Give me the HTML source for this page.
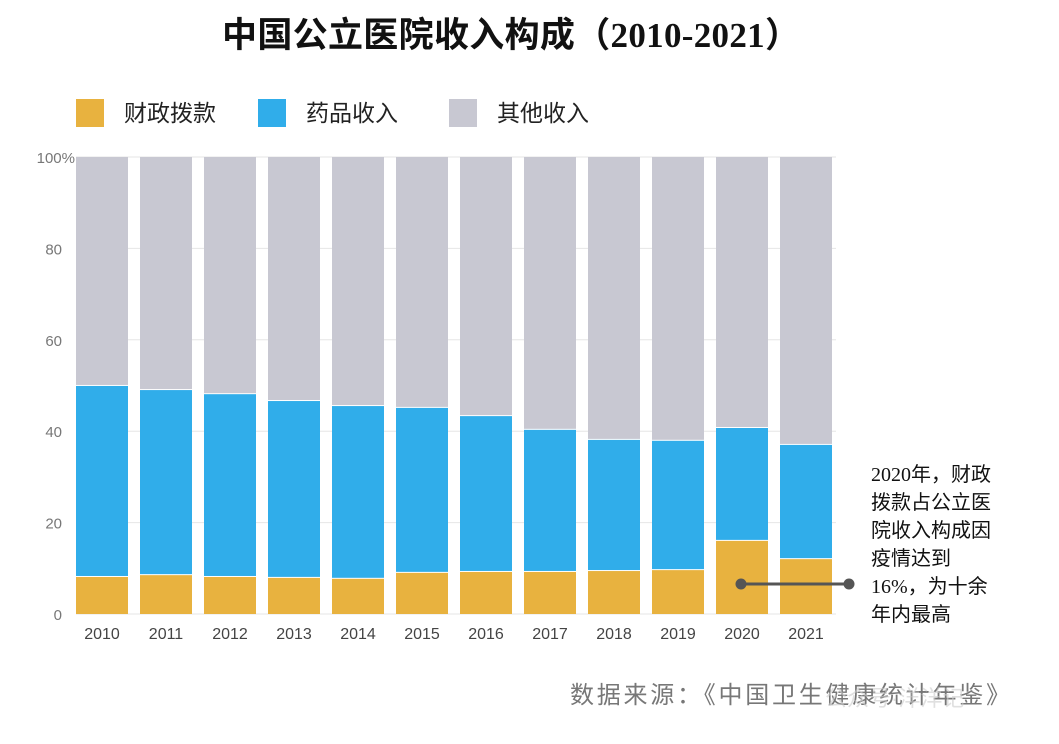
<!DOCTYPE html>
<html><head><meta charset="utf-8"><style>
body{margin:0;background:#fff;width:1059px;height:739px;overflow:hidden;font-family:"Liberation Sans","Noto Sans CJK SC",sans-serif}
</style></head><body>
<svg id="chart" width="1059" height="739" xmlns="http://www.w3.org/2000/svg">
<text x="511" y="47" text-anchor="middle" font-size="35" font-weight="bold" fill="#111" font-family="'Liberation Serif','Noto Sans CJK SC',sans-serif" textLength="578">中国公立医院收入构成（2010-2021）</text>
<g>
<rect x="76" y="99" width="28" height="28" fill="#e8b23f"/>
<text x="124" y="121" font-size="23" fill="#222">财政拨款</text>
<rect x="258" y="99" width="28" height="28" fill="#30adea"/>
<text x="306" y="121" font-size="23" fill="#222">药品收入</text>
<rect x="449" y="99" width="28" height="28" fill="#c8c8d2"/>
<text x="497" y="121" font-size="23" fill="#222">其他收入</text>
</g>
<g id="grid"></g><g id="bars"></g><g id="axes"></g>
<g>
<line x1="741" y1="584" x2="849" y2="584" stroke="#555" stroke-width="3"/>
<circle cx="741" cy="584" r="5.5" fill="#555"/><circle cx="849" cy="584" r="5.5" fill="#555"/>
<text font-size="20" fill="#111" font-family="'Liberation Serif','Noto Sans CJK SC',sans-serif">
<tspan x="871" y="481">2020年，财政</tspan><tspan x="871" y="509">拨款占公立医</tspan><tspan x="871" y="537">院收入构成因</tspan><tspan x="871" y="565">疫情达到</tspan><tspan x="871" y="593">16%，为十余</tspan><tspan x="871" y="621">年内最高</tspan></text>
</g>
<text x="570" y="703" font-size="24" fill="#777" textLength="440">数据来源：《中国卫生健康统计年鉴》</text>
<text x="825" y="706" font-size="22" fill="#ccc" opacity="0.6">公众号·洋洋记</text>
</svg>
<script>
const years=["2010","2011","2012","2013","2014","2015","2016","2017","2018","2019","2020","2021"];
const fiscal=[8.1,8.5,8.1,7.9,7.7,9.0,9.2,9.2,9.4,9.6,16.0,12.0];
const drug=[41.8,40.5,40.0,38.7,37.8,36.1,34.1,31.1,28.7,28.3,24.7,25.0];
const yTicks=[0,20,40,60,80,100];
const NS="http://www.w3.org/2000/svg";
const x0=76,step=64,bw=52,yBase=614,yTop=157;
const y=v=>yBase-(yBase-yTop)*v/100;
const xb=i=>x0+i*step;
function mk(t,a,p){const e=document.createElementNS(NS,t);for(const k in a)e.setAttribute(k,a[k]);p.appendChild(e);return e;}
const grid=document.getElementById('grid'),bars=document.getElementById('bars'),axes=document.getElementById('axes');
yTicks.forEach(v=>{
 const l=mk('line',{x1:x0,x2:836,y1:y(v),y2:y(v),stroke:'#e6e6e6','stroke-width':1},grid);
 
 
 const t=mk('text',{x:v==100?75:62,y:y(v)+6,'text-anchor':'end','font-size':15,fill:'#777'},axes);
 t.textContent=v==100?'100%':v;
 
 
});
years.forEach((yr,i)=>{
 const f=fiscal[i],d=drug[i];
 const r1=mk('rect',{x:xb(i),y:y(f),width:bw,height:y(0)-y(f),fill:'#e8b23f'},bars);
 
 
 const r2=mk('rect',{x:xb(i),y:y(f+d),width:bw,height:y(f)-y(f+d)-1,fill:'#30adea'},bars);
 
 
 const r3=mk('rect',{x:xb(i),y:y(100),width:bw,height:y(f+d)-y(100)-1,fill:'#c8c8d2'},bars);
 
 
 const t=mk('text',{x:xb(i)+bw/2,y:639,'text-anchor':'middle','font-size':16,fill:'#444'},axes);
 t.textContent=yr;
 
 
});
</script>
</body></html>
